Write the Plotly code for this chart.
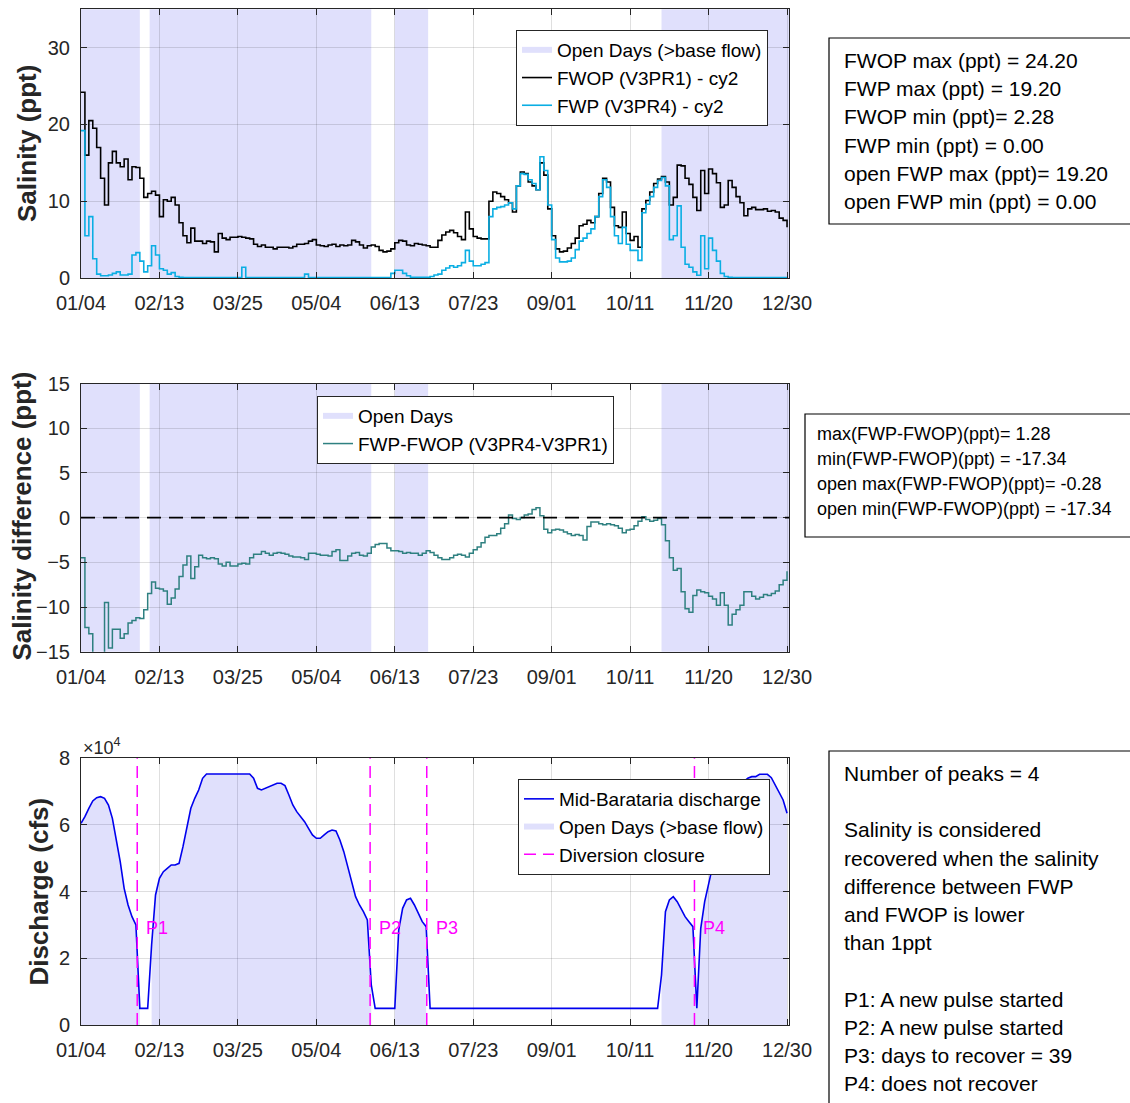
import plotly.graph_objects as go
import pandas as pd

# ---------------- data ----------------
dates = pd.date_range("2023-01-04", periods=181, freq="2D")   # every 2 days, 01/04 .. 12/30

fwop = [24.2, 16.0, 20.5, 19.5, 17.0, 13.0, 9.5, 15.0, 16.5, 15.0,
        14.5, 15.5, 12.8, 14.5, 14.4, 13.0, 10.5, 11.0, 11.3, 10.8,
        8.0, 10.2, 10.0, 10.5, 9.5, 7.2, 5.5, 4.6, 6.5, 4.8,
        4.8, 4.5, 4.8, 4.7, 3.4, 5.8, 5.2, 5.0, 5.3, 5.3,
        5.4, 5.3, 5.2, 5.1, 4.4, 4.1, 4.3, 4.0, 4.0, 3.8,
        4.0, 4.0, 4.0, 3.9, 4.1, 4.4, 4.4, 4.5, 4.8, 5.0,
        4.3, 4.2, 4.1, 4.3, 4.4, 4.1, 4.3, 4.2, 4.3, 4.9,
        4.7, 4.3, 3.9, 4.2, 4.3, 4.1, 3.6, 3.4, 3.5, 3.8,
        4.6, 4.9, 4.8, 4.3, 4.2, 4.5, 4.4, 4.3, 4.2, 4.0,
        4.0,
        4.9, 5.6, 6.0, 6.2, 5.9, 5.4, 5.0, 8.6, 6.4, 5.4,
        5.2, 5.1, 5.1, 10.0, 11.2, 11.0, 10.6, 10.2, 9.8, 8.6,
        12.0, 13.8, 13.6, 12.5, 12.0, 11.5, 15.0, 13.4, 9.0, 5.5,
        3.8, 3.4, 3.5, 3.9, 4.5, 5.2, 6.8, 7.0, 7.5, 7.2,
        8.0, 11.0, 13.0, 12.5, 9.2, 6.8, 6.6, 8.6, 5.8, 4.9,
        5.4, 4.0, 9.0, 10.1, 11.2, 12.3, 12.9, 13.2, 12.5, 9.5,
        10.5, 14.7, 14.6, 13.0, 12.2, 10.5, 8.8, 14.0, 11.0, 14.2,
        13.6, 12.4, 9.2, 9.5, 12.7, 11.8, 10.6, 9.8, 8.1, 9.0,
        9.2, 8.9, 8.9, 9.0, 8.7, 8.8, 8.6, 7.8, 7.5, 6.6]

fwp = [19.2, 5.5, 8.0, 2.5, 0.5, 0.3, 0.3, 0.4, 0.6, 0.8,
       0.4, 0.4, 0.5, 3.0, 3.3, 2.2, 0.8, 1.6, 4.2, 3.0,
       1.2, 1.0, 0.5, 0.7, 0.2, 0.1, 0.05, 0.05, 0.05, 0.05,
       0.05, 0.05, 0.05, 0.05, 0.05, 0.05, 0.05, 0.05, 0.05, 0.05,
       0.05, 1.4, 0.05, 0.05, 0.05, 0.05, 0.05, 0.05, 0.05, 0.05,
       0.05, 0.05, 0.05, 0.05, 0.05, 0.05, 0.05, 0.5, 0.05, 0.05,
       0.05, 0.05, 0.05, 0.05, 0.05, 0.05, 0.05, 0.05, 0.05, 0.05,
       0.05, 0.05, 0.05, 0.05, 0.05, 0.05, 0.05, 0.05, 0.05, 0.6,
       1.0, 1.0, 0.6, 0.3, 0.1, 0.1, 0.1, 0.1, 0.1, 0.2,
       0.4,
       0.5, 1.0, 1.3, 1.6, 1.4, 1.6, 2.0, 3.6, 2.2, 1.6,
       1.6, 1.8, 2.0, 8.0, 9.0, 9.2, 9.3, 9.5, 9.8, 9.0,
       12.0, 13.6, 13.5, 12.8, 12.3, 11.5, 15.8, 14.0, 9.5, 5.0,
       2.6, 2.1, 2.1, 2.2, 2.6, 3.7, 4.8, 5.2, 5.8, 6.4,
       8.0, 10.6, 12.8, 11.8, 8.0, 5.5, 4.5, 6.6, 4.4, 3.6,
       3.6, 2.3, 8.5, 9.6, 10.6, 11.8, 12.7, 13.1, 12.0, 5.0,
       5.5, 9.4, 4.0, 1.8, 1.4, 0.8, 0.35, 5.5, 1.2, 5.2,
       3.6, 2.2, 0.6, 0.2, 0.1, 0.05, 0.05, 0.05, 0.05, 0.05,
       0.05, 0.05, 0.05, 0.05, 0.05, 0.05, 0.05, 0.05, 0.05, 0.05]

sal_diff = [-4.5, -12.3, -13.0, -16.0, -15.5, -17.3, -9.5, -14.6, -12.5, -12.5,
            -13.5, -13.0, -11.8, -11.5, -11.2, -11.3, -10.3, -8.5, -7.2, -7.9,
            -8.0, -8.2, -9.7, -9.0, -8.0, -6.6, -5.3, -4.3, -6.8, -5.5,
            -4.2, -4.5, -4.6, -4.5, -4.6, -5.2, -5.4, -5.0, -5.4, -5.4,
            -5.2, -5.1, -5.2, -4.5, -4.1, -4.1, -3.8, -4.0, -4.2, -4.0,
            -3.9, -4.0, -4.1, -4.3, -4.4, -4.4, -4.5, -4.7, -4.0, -4.0,
            -4.1, -4.2, -4.2, -4.3, -3.8, -3.6, -4.8, -4.8, -4.3, -4.0,
            -3.9, -4.2, -4.3, -4.0, -3.3, -3.0, -2.9, -2.9, -3.4, -3.7,
            -3.7, -3.8, -4.0, -3.9, -4.0, -4.0, -4.2, -4.0, -3.7, -3.9,
            -4.2, -4.5, -4.7, -4.7, -4.5, -4.2, -4.1, -4.2, -4.4, -4.0,
            -3.6, -3.3, -2.8, -2.2, -2.0, -2.0, -1.8, -1.2, -0.7, 0.3,
            -0.1, -0.2, 0.0, 0.3, 0.4, 0.9, 1.1, 0.2, -1.3, -1.7,
            -1.4, -1.3, -1.4, -1.6, -1.8, -2.0, -1.9, -2.0, -2.5, -1.0,
            -0.5, -0.5, -0.7, -0.8, -0.7, -0.8, -0.9, -1.2, -1.7, -1.4,
            -1.3, -0.9, -0.4, 0.1, -0.2, -0.4, -0.3, -0.1, -0.8, -2.6,
            -4.5, -5.9, -5.7, -8.3, -10.2, -10.6, -8.7, -8.1, -8.3, -8.4,
            -8.8, -9.1, -9.8, -8.4, -9.8, -12.0, -10.8, -10.3, -9.8, -8.3,
            -8.3, -8.8, -9.1, -8.9, -8.6, -8.7, -8.5, -8.2, -7.5, -7.0,
            -6.0]

discharge = [60500, 62500, 65000, 67200, 68200, 68500, 68000, 66000, 62000, 56000,
             49000, 41000, 36000, 32500, 30000, 5000, 5000, 5000, 24000, 39000,
             44000, 46000, 47000, 48000, 48000, 48500, 53500, 59500, 65000, 68000,
             70500, 74000, 75300, 75300, 75300, 75300, 75300, 75300, 75300, 75300,
             75300, 75300, 75300, 75300, 74000, 71000, 70500, 71000, 71500, 72000,
             72500, 72500, 71800, 69000, 66000, 64000, 62500, 61000, 59000, 57000,
             56000, 56000, 57000, 58000, 58500, 58200, 55500, 52000, 47500, 43000,
             38500, 36000, 34000, 31500, 12000, 5000, 5000, 5000, 5000, 5000,
             5000, 28500, 35000, 37500, 38000, 36000, 33500, 31000, 29500, 5000,
             5000, 5000, 5000, 5000, 5000, 5000, 5000, 5000, 5000, 5000,
             5000, 5000, 5000, 5000, 5000, 5000, 5000, 5000, 5000, 5000,
             5000, 5000, 5000, 5000, 5000, 5000, 5000, 5000, 5000, 5000,
             5000, 5000, 5000, 5000, 5000, 5000, 5000, 5000, 5000, 5000,
             5000, 5000, 5000, 5000, 5000, 5000, 5000, 5000, 5000, 5000,
             5000, 5000, 5000, 5000, 5000, 5000, 5000, 5000, 15000, 34000,
             37500, 38500, 37000, 34500, 32500, 31000, 29500, 5000, 29000, 37000,
             42500, 47500, 52000, 56000, 60000, 63500, 67000, 69500, 71500, 73000,
             74000, 74500, 74500, 75200, 75300, 75200, 74200, 72000, 70000, 67500,
             63500]

open_start = ["2023-01-04", "2023-02-08", "2023-06-13", "2023-10-27"]
open_end = ["2023-02-03", "2023-06-01", "2023-06-30", "2023-12-31"]
closure_dates = ["2023-02-01 16:00", "2023-05-31 10:00", "2023-06-29 07:00", "2023-11-12 19:00"]
closure_labels = ["P1", "P2", "P3", "P4"]
tick_dates = pd.date_range("2023-01-04", periods=10, freq="40D")
x_range = ["2023-01-04", "2023-12-31"]

box1_lines = ["FWOP max (ppt) = 24.20", "FWP max (ppt) = 19.20", "FWOP min (ppt)= 2.28",
              "FWP min (ppt) = 0.00", "open FWP max (ppt)= 19.20", "open FWP min (ppt) = 0.00"]
box2_lines = ["max(FWP-FWOP)(ppt)= 1.28", "min(FWP-FWOP)(ppt) = -17.34",
              "open max(FWP-FWOP)(ppt)= -0.28", "open min(FWP-FWOP)(ppt) = -17.34"]
box3_lines = ["Number of peaks = 4", "", "Salinity is considered", "recovered when the salinity",
              "difference between FWP", "and FWOP is lower", "than 1ppt", "",
              "P1: A new pulse started", "P2: A new pulse started",
              "P3: days to recover = 39", "P4: does not recover"]

# ---------------- styling ----------------
W, H = 1130, 1103
FONT = "Liberation Sans, Arial, Helvetica, sans-serif"
AX = "#262626"
GRID = "rgba(38,38,38,0.15)"
LAV = "rgba(0,0,230,0.12)"


def px(x):
    return x / W


def py(y):
    return 1 - y / H


xdom = [px(81), px(789)]
ydom1 = [py(278), py(9.3)]
ydom2 = [py(651.7), py(383.5)]
ydom3 = [py(1025), py(758.3)]

fig = go.Figure()

# ---- top panel ----
fig.add_trace(go.Scatter(x=[None], y=[None], mode="none", fill="toself", fillcolor=LAV,
                         name="Open Days (>base flow)", xaxis="x", yaxis="y", legend="legend"))
fig.add_trace(go.Scatter(x=dates, y=fwop, mode="lines", line=dict(color="black", width=1.6, shape="hv"),
                         name="FWOP (V3PR1) - cy2", xaxis="x", yaxis="y", legend="legend"))
fig.add_trace(go.Scatter(x=dates, y=fwp, mode="lines", line=dict(color="#0AAEE3", width=1.6, shape="hv"),
                         name="FWP (V3PR4) - cy2", xaxis="x", yaxis="y", legend="legend"))

# ---- middle panel ----
fig.add_trace(go.Scatter(x=[None], y=[None], mode="none", fill="toself", fillcolor=LAV,
                         name="Open Days", xaxis="x2", yaxis="y2", legend="legend2"))
fig.add_trace(go.Scatter(x=dates, y=sal_diff, mode="lines", line=dict(color="#2E8080", width=1.5, shape="hv"),
                         name="FWP-FWOP (V3PR4-V3PR1)", xaxis="x2", yaxis="y2", legend="legend2"))

# ---- bottom panel ----
s_ts = pd.to_datetime(open_start)
e_ts = pd.to_datetime(open_end)
for k, (s, e) in enumerate(zip(s_ts, e_ts)):
    xs = [d for d in dates if s <= d <= e]
    ys = [q for d, q in zip(dates, discharge) if s <= d <= e]
    fig.add_trace(go.Scatter(x=xs, y=ys, mode="none", fill="tozeroy", fillcolor=LAV,
                             name="Open Days (>base flow)", legendgroup="open", showlegend=(k == 0),
                             xaxis="x3", yaxis="y3", legend="legend3", legendrank=2))
fig.add_trace(go.Scatter(x=dates, y=discharge, mode="lines", line=dict(color="#0000EE", width=1.6),
                         name="Mid-Barataria discharge", xaxis="x3", yaxis="y3",
                         legend="legend3", legendrank=1))
fig.add_trace(go.Scatter(x=[None], y=[None], mode="lines",
                         line=dict(color="#FF00FF", width=1.5, dash="12px,7px"),
                         name="Diversion closure", xaxis="x3", yaxis="y3",
                         legend="legend3", legendrank=3))

shapes = []
for s, e in zip(open_start, open_end):
    shapes.append(dict(type="rect", xref="x", yref="y domain", x0=s, x1=e, y0=0, y1=1,
                       fillcolor=LAV, line=dict(width=0), layer="below"))
    shapes.append(dict(type="rect", xref="x2", yref="y2 domain", x0=s, x1=e, y0=0, y1=1,
                       fillcolor=LAV, line=dict(width=0), layer="below"))
shapes.append(dict(type="line", xref="x2 domain", yref="y2", x0=0, x1=1, y0=0, y1=0,
                   line=dict(color="black", width=1.6, dash="14px,8px")))
for c in closure_dates:
    shapes.append(dict(type="line", xref="x3", yref="y3 domain", x0=c, x1=c, y0=0, y1=1,
                       line=dict(color="#FF00FF", width=1.5, dash="12px,7px")))

annotations = []
for c, lab in zip(closure_dates, closure_labels):
    annotations.append(dict(x=c, y=29000, xref="x3", yref="y3", text=lab, showarrow=False,
                            xanchor="left", yanchor="middle", xshift=7,
                            font=dict(family=FONT, size=18, color="#FF00FF")))

# y axis titles
for txt, xc, yc in [("Salinity (ppt)", 27.5, 143.5), ("Salinity difference (ppt)", 21, 516.5),
                    ("Discharge (cfs)", 39, 891.6)]:
    annotations.append(dict(x=px(xc), y=py(yc), xref="paper", yref="paper", text="<b>" + txt + "</b>",
                            textangle=-90, showarrow=False, xanchor="center", yanchor="middle",
                            font=dict(family=FONT, size=26, color=AX)))

annotations.append(dict(x=px(81), y=py(746), xref="paper", yref="paper", text="×10<sup>4</sup>",
                        showarrow=False, xanchor="left", yanchor="middle",
                        font=dict(family=FONT, size=18, color=AX)))


def text_box(lines, left, top, bottom, text_x, first_y, step, size):
    shapes.append(dict(type="rect", xref="paper", yref="paper", x0=px(left), x1=px(W + 20),
                       y0=py(bottom), y1=py(top), line=dict(color="black", width=1.2),
                       fillcolor="white", layer="above"))
    for i, t in enumerate(lines):
        if not t:
            continue
        annotations.append(dict(x=px(text_x), y=py(first_y + i * step), xref="paper", yref="paper",
                                text=t, showarrow=False, xanchor="left", yanchor="middle",
                                font=dict(family=FONT, size=size, color="black")))


text_box(box1_lines, 829, 38, 224, 842, 61, 28, 21)
text_box(box2_lines, 805, 414, 537, 815, 433.5, 25.3, 18)
text_box(box3_lines, 829, 751, H + 20, 842, 773.5, 28.2, 21)

xcommon = dict(type="date", range=x_range, tickvals=tick_dates, tickformat="%m/%d",
               showgrid=True, gridcolor=GRID, gridwidth=1, showline=True, linecolor=AX, linewidth=1,
               mirror="ticks", ticks="inside", ticklen=6, tickcolor=AX, automargin=False,
               ticklabelstandoff=7,
               tickfont=dict(family=FONT, size=20, color=AX), domain=xdom, zeroline=False)
ycommon = dict(showgrid=True, gridcolor=GRID, gridwidth=1, showline=True, linecolor=AX, linewidth=1,
               mirror="ticks", ticks="inside", ticklen=6, tickcolor=AX, automargin=False,
               ticklabelstandoff=6,
               tickfont=dict(family=FONT, size=20, color=AX), zeroline=False)

leg_common = dict(bgcolor="white", bordercolor="#262626", borderwidth=1, xanchor="right", yanchor="top",
                  tracegroupgap=0,
                  font=dict(family=FONT, size=19, color="black"), xref="paper", yref="paper")

fig.update_layout(
    template="none",
    width=W, height=H, autosize=False,
    margin=dict(l=0, r=0, t=0, b=0, pad=0),
    paper_bgcolor="white", plot_bgcolor="white",
    font=dict(family=FONT, color=AX),
    showlegend=True,
    xaxis=dict(**xcommon, anchor="y"),
    xaxis2=dict(**xcommon, anchor="y2"),
    xaxis3=dict(**xcommon, anchor="y3"),
    yaxis=dict(**ycommon, domain=ydom1, anchor="x", range=[0, 35], tickvals=[0, 10, 20, 30]),
    yaxis2=dict(**ycommon, domain=ydom2, anchor="x2", range=[-15, 15],
                tickvals=[-15, -10, -5, 0, 5, 10, 15]),
    yaxis3=dict(**ycommon, domain=ydom3, anchor="x3", range=[0, 80000],
                tickvals=[0, 20000, 40000, 60000, 80000], ticktext=["0", "2", "4", "6", "8"]),
    legend=dict(**leg_common, x=px(768), y=py(30)),
    legend2=dict(**leg_common, x=px(614), y=py(396)),
    legend3=dict(**leg_common, x=px(770), y=py(779)),
    shapes=shapes,
    annotations=annotations,
)

fig.write_html("out.html")
